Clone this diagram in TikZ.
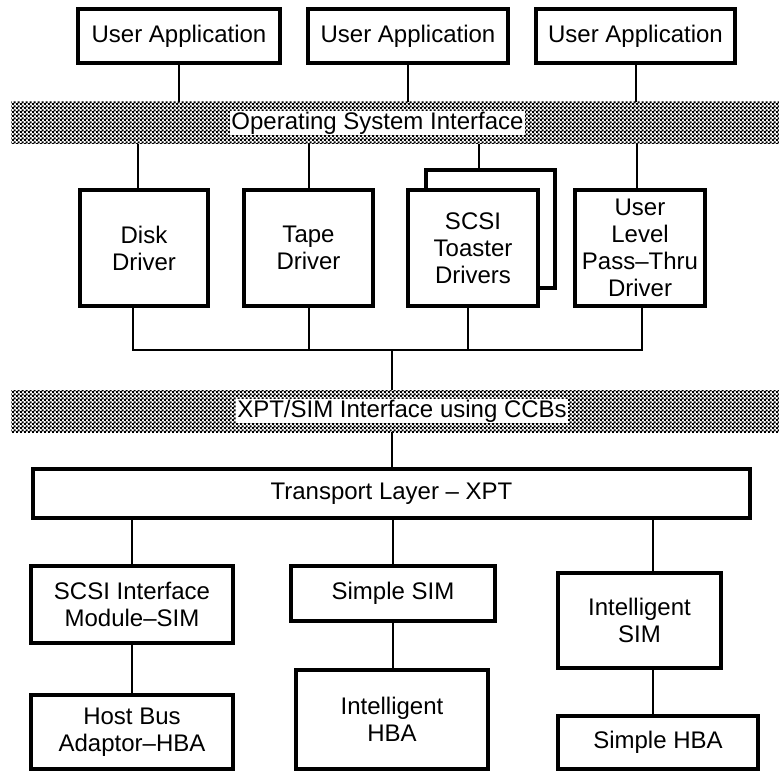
\documentclass[tikz,border=0pt]{standalone}
\usepackage{fontspec}
\setmainfont{Liberation Sans}
\usetikzlibrary{patterns}
\pgfdeclarepatternformonly{dither}{\pgfpointorigin}{\pgfqpoint{4pt}{4pt}}{\pgfqpoint{4pt}{4pt}}{%
  \pgfpathrectangle{\pgfpointorigin}{\pgfqpoint{2.4pt}{2.4pt}}%
  \pgfpathrectangle{\pgfqpoint{2pt}{2pt}}{\pgfqpoint{2.4pt}{2.4pt}}%
  \pgfusepath{fill}}
\begin{document}
\begin{tikzpicture}[x=1pt,y=-1pt,
  txt/.style={font=\fontsize{24}{27}\selectfont},
  box/.style={txt, draw, line width=4.5pt, fill=white, align=center, inner sep=0pt},
  band/.style={pattern=dither, draw=none, inner sep=0pt, minimum width=768pt, minimum height=42pt},
  bandlabel/.style={txt, fill=white, inner sep=1pt},
  wire/.style={line width=2pt}]
\useasboundingbox (0,0) rectangle (779,773);

% top row
\node[box, minimum width=202pt, minimum height=54pt] (ua1) at (179,36) {User Application};
\node[box, minimum width=200pt, minimum height=54pt] (ua2) at (408,36) {User Application};
\node[box, minimum width=199pt, minimum height=54pt] (ua3) at (635.5,36) {User Application};

% OS band
\node[band] (os) at (395,123) {};
\node[bandlabel] (oslabel) at (377.5,123) {Operating System Interface};

% drivers
\node[box, minimum width=128pt, minimum height=116pt] (disk) at (144,248) {Disk\\Driver};
\node[box, minimum width=129pt, minimum height=116pt] (tape) at (308.5,248) {Tape\\Driver};
\node[box, minimum width=129pt, minimum height=118pt] (scsiback) at (490.5,229) {};
\node[box, minimum width=130pt, minimum height=116pt] (scsi) at (473,248) {SCSI\\Toaster\\Drivers};
\node[box, minimum width=130pt, minimum height=116pt] (user) at (640,248) {User\\Level\\Pass–Thru\\Driver};

% XPT band
\node[band] (xptband) at (395,411) {};
\node[bandlabel] (xptlabel) at (402,411) {XPT/SIM Interface using CCBs};

% transport
\node[box, minimum width=717pt, minimum height=49pt] (xpt) at (391.5,493.5) {Transport Layer – XPT};

% SIMs
\node[box, minimum width=202pt, minimum height=77pt] (sim) at (132,604.5) {SCSI Interface\\Module–SIM};
\node[box, minimum width=204pt, minimum height=55pt] (ssim) at (393,593.5) {Simple SIM};
\node[box, minimum width=163pt, minimum height=95pt] (isim) at (639.5,620.5) {Intelligent\\SIM};

% HBAs
\node[box, minimum width=202pt, minimum height=74pt] (hba) at (132,732) {Host Bus\\Adaptor–HBA};
\node[box, minimum width=192pt, minimum height=99pt] (ihba) at (392,719.5) {Intelligent\\HBA};
\node[box, minimum width=200pt, minimum height=53pt] (shba) at (658,742.5) {Simple HBA};

% connectors: applications to OS band
\draw[wire] (ua1.south) -- (ua1.south |- os.north);
\draw[wire] (ua2.south) -- (ua2.south |- os.north);
\draw[wire] (ua3.south) -- (ua3.south |- os.north);

% OS band to drivers
\draw[wire] ([xshift=-6pt]disk.north |- os.south) -- ([xshift=-6pt]disk.north);
\draw[wire] (tape.north |- os.south) -- (tape.north);
\draw[wire] ([xshift=-12pt]scsiback.north |- os.south) -- ([xshift=-12pt]scsiback.north);
\draw[wire] ([xshift=-3pt]user.north |- os.south) -- ([xshift=-3pt]user.north);

% driver bus
\coordinate (busy) at (0,350);
\draw[wire] ([xshift=-11pt]disk.south) -- ([xshift=-11pt]disk.south |- busy)
  -- ([xshift=2pt]user.south |- busy) -- ([xshift=2pt]user.south);
\draw[wire] (tape.south) -- (tape.south |- busy);
\draw[wire] ([xshift=-5pt]scsi.south) -- ([xshift=-5pt]scsi.south |- busy);
\draw[wire] (busy -| xpt.north) -- (xptband.north -| xpt.north);

% XPT band to transport
\draw[wire] (xptband.south -| xpt.north) -- (xpt.north);

% transport to SIMs
\draw[wire] (xpt.south -| sim.north) -- (sim.north);
\draw[wire] (xpt.south -| ssim.north) -- (ssim.north);
\draw[wire] ([xshift=13pt]xpt.south -| isim.north) -- ([xshift=13pt]isim.north);

% SIMs to HBAs
\draw[wire] (sim.south) -- (hba.north);
\draw[wire] (ssim.south) -- (ssim.south |- ihba.north);
\draw[wire] ([xshift=13pt]isim.south) -- ([xshift=13pt]isim.south |- shba.north);
\end{tikzpicture}
\end{document}
